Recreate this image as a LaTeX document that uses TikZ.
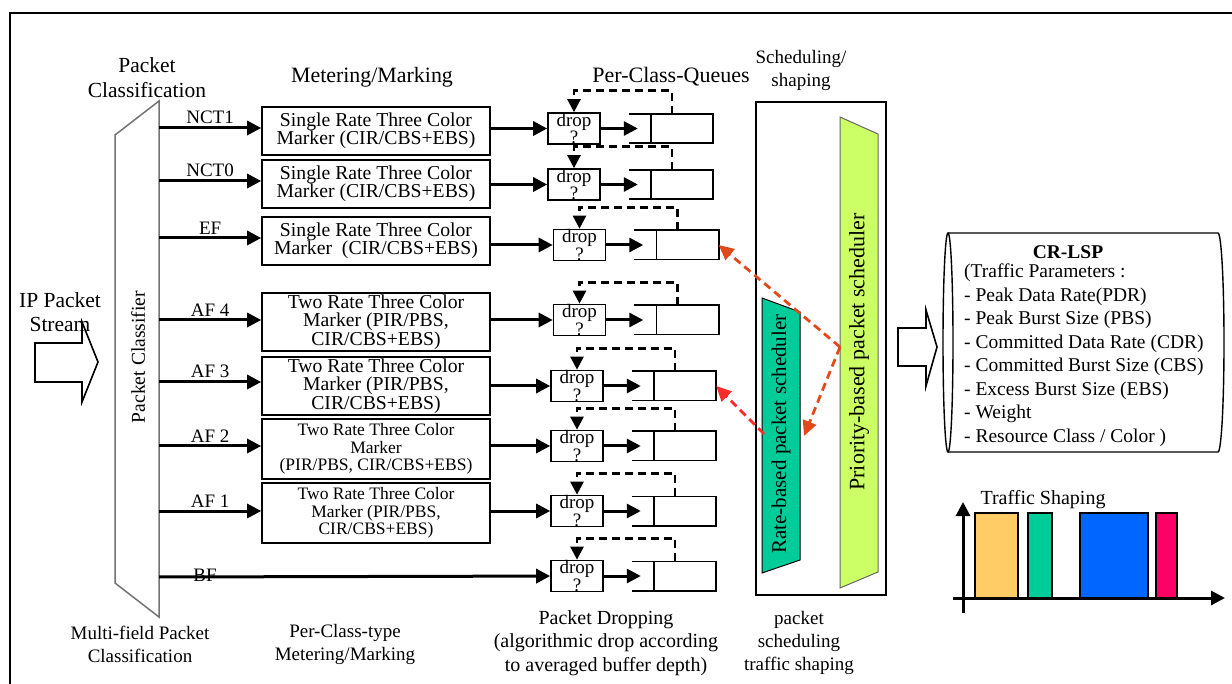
\documentclass[tikz,border=0pt]{standalone}
\usepackage{fontspec}
\setmainfont{Liberation Serif}
\usetikzlibrary{arrows.meta,positioning,calc}
\definecolor{ratecol}{HTML}{00CC99}
\definecolor{priocol}{HTML}{CCFF66}
\definecolor{barorange}{HTML}{FFCC66}
\definecolor{barblue}{HTML}{0066FF}
\definecolor{barpink}{HTML}{FF0066}
\definecolor{linkorange}{HTML}{E04A1A}
\definecolor{linkred}{HTML}{FF2A2A}

\begin{document}
\begin{tikzpicture}[x=1pt, y=-1pt,
        every node/.style={font=\fontsize{19}{23}\selectfont},
        heading/.style={align=center, inner sep=0pt},
        bigheading/.style={heading, font=\fontsize{21.5}{25}\selectfont},
        marker/.style={draw, line width=1.6pt, minimum width=228pt, inner sep=0pt, align=center, font=\fontsize{19.7}{18.5}\selectfont},
        smallmarker/.style={marker, font=\fontsize{17.5}{17.5}\selectfont},
        dropbox/.style={draw, line width=1.6pt, minimum width=52pt, minimum height=29pt, inner sep=0pt, align=center, font=\fontsize{19}{14}\selectfont},
        queue/.style={minimum width=84pt, minimum height=29pt, inner sep=0pt},
        arrow/.style={-{Triangle[length=14pt,width=14pt]}, line width=3pt},
        feedback/.style={-{Triangle[length=13pt,width=13pt]}, line width=2.6pt, dash pattern=on 8pt off 5pt},
        redlink/.style={-{Triangle[length=15pt,width=14pt]}, line width=2.8pt, dash pattern=on 8pt off 5pt, draw=linkorange},
        hollow/.style={draw, line width=1.6pt, fill=white},
        bar/.style={draw, line width=1.6pt}
    ]
        \useasboundingbox (0,0) rectangle (1232,684);
        \draw[line width=1.5pt] (10,684) -- (10,13) -- (1232,13);

        % classifier
        \draw[black!55, line width=1.5pt] (159,101) -- (115,135) -- (115,583) -- (159,617) -- cycle;
        \node[rotate=90, font=\fontsize{19.6}{23}\selectfont] (classifier) at (138,357) {Packet Classifier};
        \node[bigheading] (classtitle) at (147,78) {Packet\\Classification};
        \node[heading] (classfoot) at (140,644) {Multi-field Packet\\Classification};

        \draw[hollow] (35,343) -- (82,343) -- (82,322) -- (98,362) -- (82,402) -- (82,382) -- (35,382) -- cycle;
        \node[bigheading, font=\fontsize{21.5}{24}\selectfont] (ipstream) at (60,312) {IP Packet\\Stream};

        % metering / marking
        \node[bigheading, font=\fontsize{21.9}{25}\selectfont] (metertitle) at (372,77) {Metering/Marking};
        \node[heading] (meterfoot) at (345,644) {Per-Class-type\\Metering/Marking};
        \node[marker, minimum height=48pt] (m1) at (376,131) {Single Rate Three Color\\Marker (CIR/CBS+EBS)};
        \node[marker, minimum height=48pt] (m2) at (376,184) {Single Rate Three Color\\Marker (CIR/CBS+EBS)};
        \node[marker, minimum height=48pt] (m3) at (376,241) {Single Rate Three Color\\Marker\enspace(CIR/CBS+EBS)};
        \node[marker, minimum height=58pt] (m4) at (376,322) {Two Rate Three Color\\Marker (PIR/PBS,\\CIR/CBS+EBS)};
        \node[marker, minimum height=58pt] (m5) at (376,386) {Two Rate Three Color\\Marker (PIR/PBS,\\CIR/CBS+EBS)};
        \node[smallmarker, minimum height=60pt] (m6) at (376,449) {Two Rate Three Color\\Marker\\(PIR/PBS, CIR/CBS+EBS)};
        \node[smallmarker, minimum height=60pt] (m7) at (376,513) {Two Rate Three Color\\Marker (PIR/PBS,\\CIR/CBS+EBS)};

        % drop and queues
        \node[bigheading, font=\fontsize{22}{25}\selectfont] (queuetitle) at (671,77) {Per-Class-Queues};
        \node[heading, font=\fontsize{20}{23.5}\selectfont] (dropfoot) at (606,643) {Packet Dropping\\(algorithmic drop according\\to averaged buffer depth)};
        \foreach \i/\y/\dx in {1/128.5/-3, 2/184.5/-3, 3/245/2.5, 4/320/2.5, 5/386/0, 6/446/0, 7/511/0, 8/576/0} {
            \node[dropbox] (d\i) at (577+\dx,\y) {drop\\?};
            \node[queue] (q\i) at (674+\dx,\y) {};
            \draw[line width=1.6pt] (q\i.north west) -- (q\i.north east) -- (q\i.south east) -- (q\i.south west);
            \draw[line width=1.6pt] ([xshift=22pt]q\i.north west) -- ([xshift=22pt]q\i.south west);
            \draw[arrow] (d\i) -- ([xshift=9pt]q\i.west);
            \draw[feedback] ([xshift=43pt]q\i.north west) -- ++(0,-23) -| (d\i.north);
        }

        \foreach \i/\y/\lab in {1/128/NCT1, 2/181/NCT0, 3/238/EF, 4/320/AF 4, 5/382/AF 3, 6/446/AF 2, 7/511/AF 1} {
            \coordinate (c\i) at (159,\y);
            \draw[arrow] (c\i) -- node[above=-1pt] (l\i) {\lab} (c\i -| m\i.west);
            \draw[arrow] (m\i.east |- d\i) -- (d\i);
        }
        \coordinate (c8) at (159,577);
        \draw[arrow] (c8) -- (d8);
        \node (l8) at (205,575) {BF};

        % scheduling / shaping
        \node[heading] (schedtitle) at (801,70) {Scheduling/\\shaping};
        \node[heading] (schedfoot) at (799,643) {packet\\scheduling\\traffic shaping};
        \draw[line width=1.6pt] (756,102) rectangle (886,595);
        \draw[fill=ratecol, line width=1pt] (762,298) -- (800,312) -- (800,560) -- (762,573) -- cycle;
        \node[rotate=90, font=\fontsize{21}{23}\selectfont] (ratesched) at (781,434) {Rate-based packet scheduler};
        \draw[fill=priocol, draw=black!60, line width=1pt] (840,117) -- (878,134) -- (878,572) -- (840,588) -- cycle;
        \node[rotate=90, font=\fontsize{22}{23}\selectfont] (priosched) at (859,352) {Priority-based packet scheduler};

        \coordinate (prioleft) at (840,347);
        \coordinate (rateright) at (804,436);
        \coordinate (rateleft) at (764,434);
        \draw[redlink] (prioleft) -- (q3.east);
        \draw[redlink] (prioleft) -- (rateright);
        \draw[redlink, draw=linkred] (rateleft) -- (q5.east);

        % CR-LSP
        \draw[hollow] (898,328) -- (926,328) -- (926,310) -- (937,347) -- (926,386) -- (926,366) -- (898,366) -- cycle;
        \draw[line width=1.4pt] (948,233) -- (1218,233) arc[start angle=-90, end angle=90, x radius=6, y radius=109.5] -- (948,452);
        \draw[line width=1.4pt] (948,342.5) ellipse[x radius=5, y radius=109.5];
        \node[font=\fontsize{19.5}{23.5}\selectfont\bfseries] (crlsp) at (1068,252) {CR-LSP};
        \node[anchor=west, align=left, inner sep=0pt, font=\fontsize{19.5}{23.5}\selectfont] (params) at (964,355) {(Traffic Parameters :\\- Peak Data Rate(PDR)\\- Peak Burst Size (PBS)\\- Committed Data Rate (CDR)\\- Committed Burst Size (CBS)\\- Excess Burst Size (EBS)\\- Weight\\- Resource Class / Color )};

        % traffic shaping
        \draw[bar, fill=barorange] (975,598) rectangle (1018,513);
        \draw[bar, fill=ratecol] (1028,598) rectangle (1052,513);
        \draw[bar, fill=barblue] (1080,598) rectangle (1148,513);
        \draw[bar, fill=barpink] (1156,598) rectangle (1177,513);
        \draw[arrow] (963,613) -- (963,502);
        \draw[arrow] (953,598) -- (1225,598);
        \node[font=\fontsize{20}{23}\selectfont] (shapetitle) at (1043,500) {Traffic Shaping};
    \end{tikzpicture}
\end{document}
